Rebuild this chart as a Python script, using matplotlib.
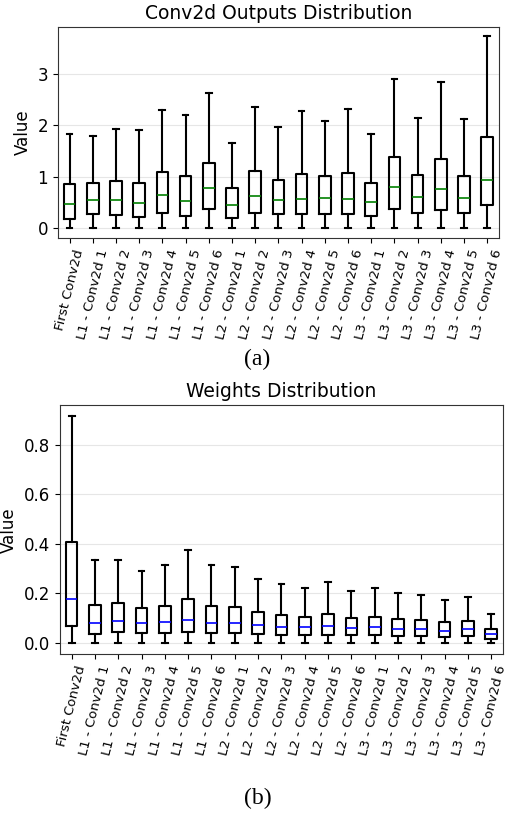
import matplotlib.pyplot as plt

labels = ['First Conv2d'] + ['L%d - Conv2d %d' % (l, i) for l in (1, 2, 3) for i in range(1, 7)]

# Conv2d outputs (a)
out_med = [0.48, 0.55, 0.55, 0.49, 0.65, 0.54, 0.78, 0.46, 0.63, 0.55, 0.58, 0.60, 0.58, 0.52, 0.80, 0.61, 0.76, 0.60, 0.95]
out_q1 = [0.19, 0.28, 0.26, 0.23, 0.30, 0.24, 0.37, 0.21, 0.29, 0.27, 0.27, 0.28, 0.27, 0.25, 0.38, 0.30, 0.36, 0.30, 0.45]
out_q3 = [0.86, 0.89, 0.93, 0.89, 1.10, 1.02, 1.27, 0.78, 1.11, 0.94, 1.06, 1.01, 1.08, 0.88, 1.39, 1.04, 1.35, 1.02, 1.77]
out_hi = [1.84, 1.80, 1.94, 1.91, 2.31, 2.21, 2.64, 1.66, 2.36, 1.97, 2.28, 2.09, 2.32, 1.84, 2.91, 2.14, 2.84, 2.12, 3.73]
out_lo = [0.0] * 19

# Weights (b)
w_med = [0.179, 0.080, 0.088, 0.082, 0.086, 0.095, 0.083, 0.083, 0.073, 0.066, 0.063, 0.068, 0.062, 0.064, 0.058, 0.057, 0.050, 0.055, 0.035]
w_q1 = [0.069, 0.035, 0.043, 0.039, 0.039, 0.046, 0.039, 0.040, 0.035, 0.031, 0.031, 0.032, 0.031, 0.032, 0.028, 0.028, 0.025, 0.029, 0.015]
w_q3 = [0.409, 0.152, 0.160, 0.140, 0.151, 0.176, 0.148, 0.144, 0.124, 0.112, 0.106, 0.116, 0.103, 0.106, 0.096, 0.093, 0.084, 0.090, 0.055]
w_hi = [0.914, 0.334, 0.334, 0.292, 0.315, 0.374, 0.315, 0.305, 0.258, 0.239, 0.223, 0.246, 0.212, 0.223, 0.200, 0.195, 0.173, 0.185, 0.116]
w_lo = [0.0] * 19


def stats(lo, q1, med, q3, hi):
    return [dict(whislo=a, q1=b, med=c, q3=d, whishi=e, fliers=[], label=l)
            for a, b, c, d, e, l in zip(lo, q1, med, q3, hi, labels)]


def draw(ax, st, medcolor, title):
    ax.bxp(st, showfliers=False, widths=0.5,
           boxprops=dict(color='black', linewidth=1.5),
           whiskerprops=dict(color='black', linewidth=1.5),
           capprops=dict(color='black', linewidth=1.5),
           medianprops=dict(color=medcolor, linewidth=1.2))
    ax.set_title(title, fontsize=13.5)
    ax.set_ylabel('Value', fontsize=12)
    ax.tick_params(axis='y', labelsize=12)
    ax.tick_params(axis='x', labelsize=9.5, rotation=76)
    ax.yaxis.grid(True, color='#e6e6e6', linewidth=0.8)
    ax.set_axisbelow(True)
    for s in ax.spines.values():
        s.set_color('#333333')


fig = plt.figure(figsize=(5.08, 8.15), dpi=100)
ax1 = fig.add_axes([0.114, 0.708, 0.868, 0.259])
ax2 = fig.add_axes([0.118, 0.197, 0.872, 0.306])

draw(ax1, stats(out_lo, out_q1, out_med, out_q3, out_hi), 'green', 'Conv2d Outputs Distribution')
ax1.set_yticks([0, 1, 2, 3])
draw(ax2, stats(w_lo, w_q1, w_med, w_q3, w_hi), 'blue', 'Weights Distribution')
ax2.set_yticks([0.0, 0.2, 0.4, 0.6, 0.8])

fig.text(0.506, 1 - 359 / 815, '(a)', fontsize=17, family='Liberation Serif', ha='center', va='center')
fig.text(0.508, 1 - 798 / 815, '(b)', fontsize=17, family='Liberation Serif', ha='center', va='center')

fig.savefig('out.png', dpi=100)
